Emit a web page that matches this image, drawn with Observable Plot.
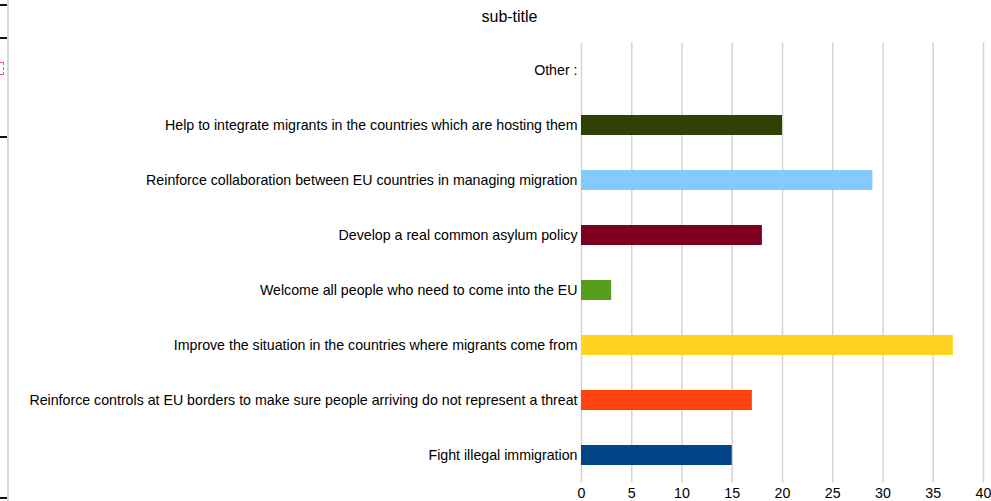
<!DOCTYPE html>
<html>
<head>
<meta charset="utf-8">
<script src="https://cdn.jsdelivr.net/npm/d3@7"></script>
<script src="https://cdn.jsdelivr.net/npm/@observablehq/plot@0.6"></script>
<style>
  body { margin: 0; background: #fff; font-family: "Liberation Sans", Arial, sans-serif; }
  #wrap { position: relative; width: 991px; height: 501px; overflow: hidden; }
  #subtitle { height: 35px; width: 991px; text-align: center; font-size: 16px; line-height: 34px; color: #000; padding-left: 28px; box-sizing: border-box; }
  .edge { position: absolute; left: 7px; top: 0; width: 2px; height: 501px; background: #d6d6d6; }
  .tick { position: absolute; left: 0; width: 7px; height: 2px; background: #111; }
  .red { position: absolute; left: 0; top: 62px; width: 3px; height: 11px; border: 1px dashed #f06060; border-left: none; }
</style>
</head>
<body>
<div id="wrap">
  <div class="edge"></div>
  <div class="tick" style="top:4px"></div>
  <div class="tick" style="top:37px"></div>
  <div class="tick" style="top:136px"></div>
  <div class="tick" style="top:497px"></div>
  <div class="red"></div>
  <div id="subtitle">sub-title</div>
  <div id="chart"></div>
</div>
<script>
const categories = [
  "Other :",
  "Help to integrate migrants in the countries which are hosting them",
  "Reinforce collaboration between EU countries in managing migration",
  "Develop a real common asylum policy",
  "Welcome all people who need to come into the EU",
  "Improve the situation in the countries where migrants come from",
  "Reinforce controls at EU borders to make sure people arriving do not represent a threat",
  "Fight illegal immigration"
];
const values = [0, 20, 29, 18, 3, 37, 17, 15];
const colors = ["#ffffff", "#314004", "#83caff", "#7e0021", "#579d1c", "#ffd320", "#ff420e", "#004586"];
const xTicks = [0, 5, 10, 15, 20, 25, 30, 35, 40];

const data = categories.map((c, i) => ({category: c, value: values[i], color: colors[i]}));

const chart = Plot.plot({
  width: 991,
  height: 466,
  marginTop: 7.5,
  marginBottom: 18.5,
  marginLeft: 581,
  marginRight: 8,
  style: {fontFamily: "'Liberation Sans', Arial, sans-serif", fontSize: "14.2px", color: "#000", background: "transparent"},
  x: {domain: [0, 40], ticks: xTicks, label: null},
  y: {domain: categories, label: null, paddingInner: 0.636, paddingOuter: 0.318, align: 0.5},
  marks: [
    Plot.gridX(xTicks, {stroke: "#d4d4d4", strokeOpacity: 1, strokeWidth: 1.5}),
    Plot.barX(data, {x: "value", y: "category", fill: "color"}),
    Plot.axisX({ticks: xTicks, tickSize: 0, tickPadding: 5, fontSize: 14.2, label: null}),
    Plot.axisY({tickSize: 0, tickPadding: 4, fontSize: 14.2, label: null})
  ]
});
document.getElementById("chart").appendChild(chart);
</script>
</body>
</html>
